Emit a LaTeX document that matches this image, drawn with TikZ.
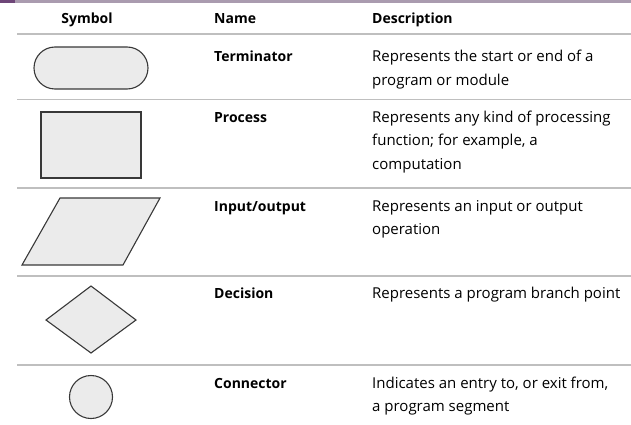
\documentclass[tikz,border=0pt]{standalone}
\usepackage{fontspec}
\setmainfont{Open Sans}
\newcommand{\desclines}[1]{\begin{tabular}[t]{@{}l@{}}#1\end{tabular}}
\begin{document}
\begin{tikzpicture}[x=1pt,y=-1pt,
  shp/.style={draw=black!78,fill=black!8,line width=1.1pt,line join=miter},
  rule/.style={draw=black!25,line width=1.4pt},
  hdr/.style={font=\fontsize{14}{23.5}\selectfont\bfseries,anchor=base,inner sep=0pt},
  nm/.style={font=\fontsize{14}{23.5}\selectfont\bfseries,anchor=base west,inner sep=0pt},
  desc/.style={font=\fontsize{15}{23.5}\selectfont,anchor=base west,inner sep=0pt}]
\useasboundingbox (0,0) rectangle (631,425);
% top bar
\fill[color={rgb,255:red,170;green,155;blue,175}] (0,0) rectangle (631,3);
\fill[color={rgb,255:red,110;green,70;blue,120}] (0,0) rectangle (15,3);
% headers
\node[hdr] (hsym) at (87,24) {Symbol};
\node[nm] (hname) at (214,24) {Name};
\node[nm] (hdesc) at (372,24) {Description};
% rules
\draw[rule] (17,34) -- (631,34);
\draw[rule] (17,99.5) -- (631,99.5);
\draw[rule] (17,188) -- (631,188);
\draw[rule] (17,276) -- (631,276);
\draw[rule] (17,365) -- (631,365);
% shapes
\draw[shp,rounded corners=21pt] (34,47) rectangle (148,89);
\draw[shp] (41,112) rectangle (141,178);
\draw[shp] (60,198) -- (160,198) -- (123,265) -- (22,265) -- cycle;
\draw[shp] (91,286) -- (136,320) -- (91,353) -- (46,320) -- cycle;
\draw[shp] (91,397) circle[radius=21.5];
% names
\node[nm] (n1) at (214,62) {Terminator};
\node[nm] (n2) at (214,122) {Process};
\node[nm] (n3) at (214,211) {Input/output};
\node[nm] (n4) at (214,298) {Decision};
\node[nm] (n5) at (214,388) {Connector};
% descriptions
\node[desc] (d1) at (372,62) {\desclines{Represents the start or end of a\\program or module}};
\node[desc] (d2) at (372,122) {\desclines{Represents any kind of processing\\function; for example, a\\computation}};
\node[desc] (d3) at (372,211) {\desclines{Represents an input or output\\operation}};
\node[desc] (d4) at (372,298) {\desclines{Represents a program branch point}};
\node[desc] (d5) at (372,388) {\desclines{Indicates an entry to, or exit from,\\a program segment}};
\end{tikzpicture}
\end{document}
